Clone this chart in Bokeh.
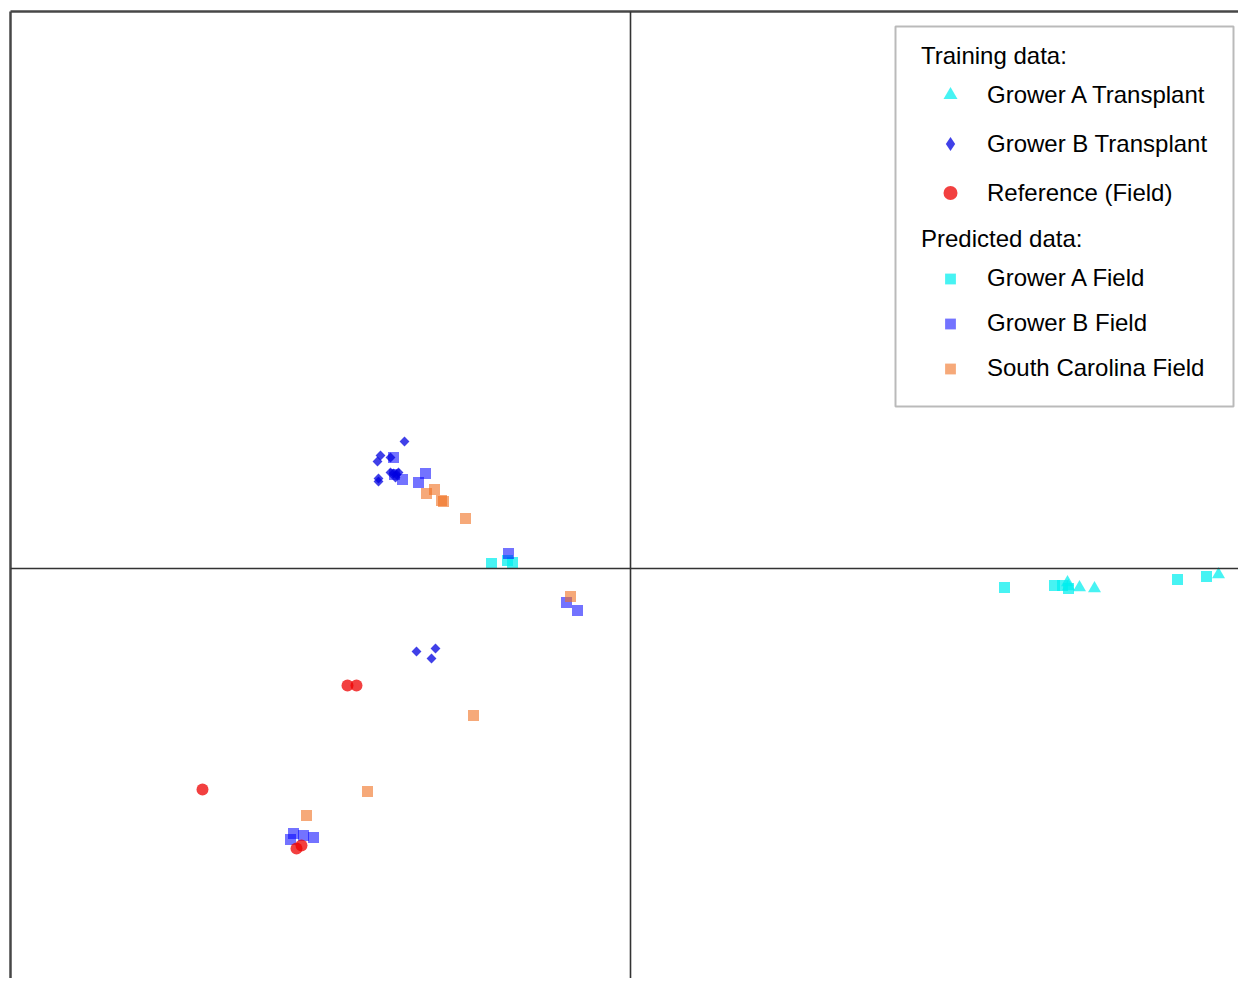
from bokeh.plotting import figure
from bokeh.models import Span, Legend, LegendItem, BoxAnnotation, Range1d, FixedTicker
from bokeh.embed import file_html
from bokeh.resources import INLINE
import numpy as np

# ---- data (PCA-like scores) ----
ga_transplant_x = [4.37, 4.38, 4.49, 4.64, 5.88]
ga_transplant_y = [-0.14, -0.18, -0.19, -0.20, -0.06]

gb_transplant_x = [-2.26, -2.50, -2.53, -2.40, -2.52, -2.52, -2.37, -2.34, -2.32, -2.40, -2.35, -2.14, -1.95, -1.99]
gb_transplant_y = [1.27, 1.13, 1.07, 1.11, 0.90, 0.87, 0.95, 0.94, 0.96, 0.96, 0.91, -0.83, -0.80, -0.90]

ref_field_x = [-2.83, -2.74, -4.28, -3.34, -3.29]
ref_field_y = [-1.17, -1.17, -2.21, -2.80, -2.77]

ga_field_x = [-1.39, -1.23, -1.18, 3.74, 4.24, 4.32, 4.38, 5.47, 5.76]
ga_field_y = [0.05, 0.08, 0.06, -0.19, -0.17, -0.17, -0.20, -0.11, -0.08]

gb_field_x = [-2.37, -2.28, -2.05, -2.12, -2.36, -1.22, -0.64, -0.53, -3.37, -3.27, -3.17, -3.40]
gb_field_y = [1.11, 0.89, 0.95, 0.86, 0.94, 0.15, -0.34, -0.42, -2.65, -2.67, -2.69, -2.71]

sc_field_x = [-2.04, -1.96, -1.89, -1.87, -1.65, -0.60, -1.57, -2.63, -3.24]
sc_field_y = [0.75, 0.79, 0.68, 0.67, 0.50, -0.28, -1.47, -2.23, -2.47]

FONT = "Liberation Sans"

p = figure(width=1238, height=978,
           x_range=Range1d(-6.20, 6.08), y_range=Range1d(-4.10, 5.57),
           x_axis_location="above", y_axis_location="left",
           output_backend="svg", toolbar_location=None,
           min_border_left=10, min_border_top=11, min_border_right=0, min_border_bottom=0)
p.grid.visible = False
p.outline_line_color = None
p.background_fill_color = "white"
p.border_fill_color = "white"
for ax in (p.xaxis[0], p.yaxis[0]):
    ax.ticker = FixedTicker(ticks=[])
    ax.major_tick_out = 0
    ax.major_tick_in = 0
    ax.minor_tick_out = 0
    ax.minor_tick_in = 0
    ax.major_label_standoff = 0
    ax.major_label_text_font_size = "0px"
    ax.axis_line_width = 2.5
    ax.axis_line_color = "#474747"

# crosshair at origin
p.add_layout(Span(location=0, dimension="height", line_color="#333333", line_width=1.6))
p.add_layout(Span(location=0, dimension="width", line_color="#333333", line_width=1.6))

# predicted data first (squares)
r_gaf = p.scatter(ga_field_x, ga_field_y, marker="square", size=11,
                  fill_color="#00eeee", fill_alpha=0.72, line_color=None)
r_gbf = p.scatter(gb_field_x, gb_field_y, marker="square", size=11,
                  fill_color="#0000ff", fill_alpha=0.55, line_color=None)
r_scf = p.scatter(sc_field_x, sc_field_y, marker="square", size=11,
                  fill_color="#f07020", fill_alpha=0.6, line_color=None)
# training data
r_gat = p.scatter(ga_transplant_x, ga_transplant_y, marker="triangle", size=13,
                  fill_color="#00eeee", fill_alpha=0.72, line_color=None)
r_gbt = p.scatter(gb_transplant_x, gb_transplant_y, marker="square", size=7, angle=np.pi / 4,
                  fill_color="#0000e0", fill_alpha=0.75, line_color=None)
r_ref = p.scatter(ref_field_x, ref_field_y, marker="circle", size=12,
                  fill_color="#ee0000", fill_alpha=0.75, line_color=None)
# legend-only key for the diamond series (legend keys ignore marker angle);
# NaN position so it never shows inside the plot
r_gbt_key = p.scatter([np.nan], [np.nan], marker="diamond", size=12,
                      fill_color="#0000e0", fill_alpha=0.75, line_color=None)

def make_legend(title, items, loc, spacing, standoff, glyph_h, label_h):
    leg = Legend(items=items, title=title, location=loc,
                 orientation="vertical", margin=0, padding=0,
                 border_line_color=None, background_fill_alpha=0,
                 glyph_width=58, glyph_height=glyph_h, label_height=label_h,
                 label_standoff=8, spacing=spacing, title_standoff=standoff,
                 label_text_font=FONT, label_text_font_size="24px",
                 label_text_color="black",
                 title_text_font=FONT, title_text_font_size="24px",
                 title_text_font_style="normal", title_text_color="black")
    return leg

leg1 = make_legend("Training data:", [
    LegendItem(label="Grower A Transplant", renderers=[r_gat]),
    LegendItem(label="Grower B Transplant", renderers=[r_gbt_key]),
    LegendItem(label="Reference (Field)", renderers=[r_ref]),
], (911, 768), 14, 7, 35, 35)
leg2 = make_legend("Predicted data:", [
    LegendItem(label="Grower A Field", renderers=[r_gaf]),
    LegendItem(label="Grower B Field", renderers=[r_gbf]),
    LegendItem(label="South Carolina Field", renderers=[r_scf]),
], (911, 595), 15, 10, 27, 30)
p.add_layout(leg1)
p.add_layout(leg2)

# legend frame
p.add_layout(BoxAnnotation(left=2.65, right=6.03, top=5.42, bottom=1.62,
                           fill_alpha=0, line_color="#1a1a1a", line_width=2))

open("out.html", "w").write(file_html(p, INLINE))
